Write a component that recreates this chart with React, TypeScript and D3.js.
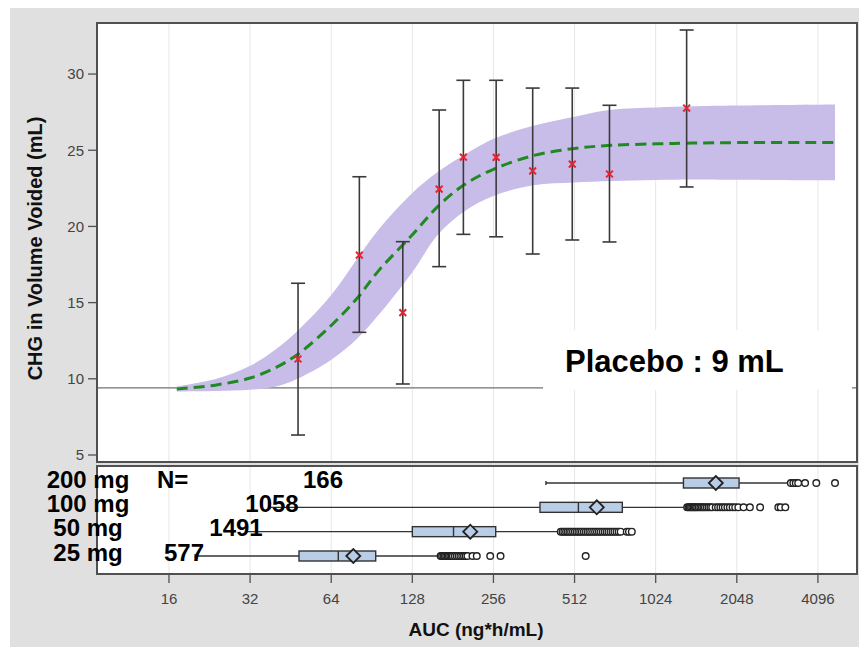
import React from 'react';
import * as d3 from 'd3';

// ---- axis ticks ----
const xTicks = [16, 32, 64, 128, 256, 512, 1024, 2048, 4096];
const yTicks = [5, 10, 15, 20, 25, 30];

// ---- observed binned data (AUC bin, mean change, CI) ----
const obsAUC = [48.2, 81.4, 118, 161, 198, 262, 358, 502, 690, 1334];
const obsMean = [11.3, 18.12, 14.34, 22.45, 24.55, 24.53, 23.64, 24.09, 23.44, 27.77];
const obsLow = [6.31, 13.05, 9.66, 17.36, 19.48, 19.32, 18.19, 19.11, 18.98, 22.59];
const obsHigh = [16.27, 23.26, 19.0, 27.64, 29.59, 29.59, 29.08, 29.08, 27.95, 32.89];

// ---- model fit (Emax) with prediction band ----
const fitAUC = [17.1, 24, 32, 40, 48, 64, 80, 96, 128, 160, 200, 256, 360, 512, 700, 1024, 1400, 2048, 4740];
const fitMean = [9.33, 9.6, 10.05, 10.75, 11.6, 13.5, 15.3, 17.1, 19.45, 21.35, 22.75, 23.75, 24.65, 25.12, 25.32, 25.42, 25.47, 25.5, 25.5];
const fitUpper = [9.5, 10.0, 10.85, 11.95, 13.15, 15.5, 17.9, 19.8, 22.2, 23.6, 24.7, 25.75, 26.6, 27.2, 27.65, 27.8, 27.88, 27.93, 28.0];
const fitLower = [9.17, 9.2, 9.28, 9.5, 10.0, 11.25, 12.65, 14.2, 17.0, 19.5, 21.0, 22.0, 22.7, 22.88, 22.98, 23.05, 23.08, 23.06, 23.03];

const placeboValue = 9.4;
const placeboLabel = 'Placebo : 9 mL';

// ---- exposure box plots by dose ----
const doses = ['200 mg', '100 mg', '50 mg', '25 mg'];
const nCounts = [166, 1058, 1491, 577];
const whiskLow = [401, 38, 31, 20];
const q1 = [1298, 381, 128, 48.6];
const medians = [1700, 529, 182, 68];
const q3 = [2088, 770, 261, 93.6];
const whiskHigh = [3180, 1336, 452, 161];
const means = [1712, 619, 210, 77.3];
const outliers200 = [3250, 3320, 3390, 3460, 3670, 4040, 4740];
const outliers100 = [1340, 1355, 1370, 1385, 1400, 1415, 1430, 1445, 1460, 1480, 1500, 1520, 1540, 1560, 1585, 1610, 1635, 1660, 1710, 1745, 1780, 1815, 1850, 1890, 1930, 1975, 2020, 2075, 2170, 2290, 2500, 2920, 2980, 3100];
const outliers50 = [455, 462, 469, 476, 483, 490, 497, 505, 513, 521, 529, 537, 545, 554, 563, 572, 581, 590, 600, 610, 620, 630, 640, 651, 662, 673, 684, 696, 708, 720, 733, 746, 759, 800, 815, 835];
const outliers25 = [163, 165, 167, 169, 171, 173, 175, 177, 179, 181, 184, 187, 190, 193, 196, 199, 202, 205, 214, 222, 249, 272, 563];
const outliersByDose = [outliers200, outliers100, outliers50, outliers25];

// layout constants (not data)
const countLabelX = [323, 272, 236, 184];
const FONT = '"Liberation Sans", Arial, Helvetica, sans-serif';

export default function App() {
  const W = 859, H = 647;
  const left = 97, right = 857, top = 23, upperBottom = 462, lowerTop = 466, lowerBottom = 574;

  const x = d3.scaleLog().base(2).domain([8.65, 5720]).range([left, right]);
  const y = d3.scaleLinear().domain([4.54, 33.35]).range([upperBottom, top]);
  const row = d3.scalePoint<string>().domain(doses).range([483, 556]);

  const fitData = fitAUC.map((a, i) => ({ a, m: fitMean[i], u: fitUpper[i], l: fitLower[i] }));
  const area = d3.area<any>().x(d => x(d.a)).y0(d => y(d.l)).y1(d => y(d.u)).curve(d3.curveCatmullRom.alpha(0.5));
  const line = d3.line<any>().x(d => x(d.a)).y(d => y(d.m)).curve(d3.curveCatmullRom.alpha(0.5));

  const boxH = 5;
  const dia = 7;
  const cap = 7;
  const xs = 3.4;

  return (
    <svg width={W} height={H} style={{ position: 'absolute', left: 0, top: 0, fontFamily: FONT }}>
      <rect x={0} y={0} width={W} height={H} fill="#ffffff" />
      <rect x={10} y={8} width={W - 10} height={H - 8} fill="#e0e0e0" />

      {/* upper panel */}
      <rect x={left} y={top} width={right - left} height={upperBottom - top} fill="#ffffff" />
      {xTicks.map(t => (
        <line key={'gu' + t} x1={x(t)} x2={x(t)} y1={top} y2={upperBottom} stroke="#e6e6e6" strokeWidth={1} />
      ))}
      <line x1={left} x2={right} y1={y(placeboValue)} y2={y(placeboValue)} stroke="#707070" strokeWidth={1.3} />
      <path d={area(fitData) || ''} fill="#c8bde9" />
      <path d={line(fitData) || ''} fill="none" stroke="#1f8a1f" strokeWidth={3} strokeDasharray="11 6" />

      {obsAUC.map((a, i) => {
        const cx = x(a);
        const cy = y(obsMean[i]);
        return (
          <g key={'ob' + i}>
            <line x1={cx} x2={cx} y1={y(obsLow[i])} y2={y(obsHigh[i])} stroke="#3a3a3a" strokeWidth={1.6} />
            <line x1={cx - cap} x2={cx + cap} y1={y(obsLow[i])} y2={y(obsLow[i])} stroke="#3a3a3a" strokeWidth={1.6} />
            <line x1={cx - cap} x2={cx + cap} y1={y(obsHigh[i])} y2={y(obsHigh[i])} stroke="#3a3a3a" strokeWidth={1.6} />
            <path d={`M${cx - xs},${cy - xs}L${cx + xs},${cy + xs}M${cx - xs},${cy + xs}L${cx + xs},${cy - xs}`} stroke="#e8232d" strokeWidth={2} />
          </g>
        );
      })}

      {/* placebo label box */}
      <rect x={543} y={330} width={309} height={60} fill="#ffffff" />
      <text x={565} y={372} fontSize={31} fontWeight="bold" fill="#000">{placeboLabel}</text>

      <rect x={left} y={top} width={right - left} height={upperBottom - top} fill="none" stroke="#505050" strokeWidth={2} />

      {/* y axis */}
      {yTicks.map(t => (
        <g key={'yt' + t}>
          <line x1={left - 9} x2={left} y1={y(t)} y2={y(t)} stroke="#505050" strokeWidth={1.3} />
          <text x={left - 13} y={y(t)} dy="0.36em" textAnchor="end" fontSize={15} fill="#444">{t}</text>
        </g>
      ))}
      <text transform={`translate(42,${(top + upperBottom) / 2 + 6}) rotate(-90)`} textAnchor="middle" fontSize={20} fontWeight="bold" fill="#111">
        CHG in Volume Voided (mL)
      </text>

      {/* lower panel */}
      <rect x={left} y={lowerTop} width={right - left} height={lowerBottom - lowerTop} fill="#ffffff" />
      {xTicks.map(t => (
        <line key={'gl' + t} x1={x(t)} x2={x(t)} y1={lowerTop} y2={lowerBottom} stroke="#e6e6e6" strokeWidth={1} />
      ))}
      {doses.map((d, i) => {
        const cy = row(d) as number;
        const mx = x(means[i]);
        return (
          <g key={'bx' + d}>
            <line x1={x(whiskLow[i])} x2={x(q1[i])} y1={cy} y2={cy} stroke="#333" strokeWidth={1.4} />
            <line x1={x(q3[i])} x2={x(whiskHigh[i])} y1={cy} y2={cy} stroke="#333" strokeWidth={1.4} />
            <line x1={x(whiskLow[i])} x2={x(whiskLow[i])} y1={cy - 2} y2={cy + 2} stroke="#333" strokeWidth={1.4} />
            <line x1={x(whiskHigh[i])} x2={x(whiskHigh[i])} y1={cy - 2} y2={cy + 2} stroke="#333" strokeWidth={1.4} />
            <rect x={x(q1[i])} y={cy - boxH} width={x(q3[i]) - x(q1[i])} height={boxH * 2} fill="#b9cde6" stroke="#333" strokeWidth={1.4} />
            <line x1={x(medians[i])} x2={x(medians[i])} y1={cy - boxH} y2={cy + boxH} stroke="#333" strokeWidth={1.4} />
            <path d={`M${mx - dia},${cy}L${mx},${cy - dia}L${mx + dia},${cy}L${mx},${cy + dia}Z`} fill="#b9cde6" stroke="#222" strokeWidth={1.8} />
            {outliersByDose[i].map((o, j) => (
              <circle key={j} cx={x(o)} cy={cy} r={3.3} fill="#ffffff" stroke="#222" strokeWidth={1.4} />
            ))}
          </g>
        );
      })}
      <rect x={left} y={lowerTop} width={right - left} height={lowerBottom - lowerTop} fill="none" stroke="#505050" strokeWidth={2} />

      {/* dose labels and N */}
      {doses.map((d, i) => {
        const cy = row(d) as number;
        return (
          <g key={'lb' + d}>
            <text x={88} y={cy + 4.5} textAnchor="middle" fontSize={24} fontWeight="bold" fill="#000">{d}</text>
            <text x={countLabelX[i]} y={cy + 4.5} textAnchor="middle" fontSize={24} fontWeight="bold" fill="#000">{nCounts[i]}</text>
          </g>
        );
      })}
      <text x={157} y={(row(doses[0]) as number) + 4.5} fontSize={24} fontWeight="bold" fill="#000">N=</text>

      {/* x axis */}
      {xTicks.map(t => (
        <g key={'xt' + t}>
          <line x1={x(t)} x2={x(t)} y1={lowerBottom} y2={lowerBottom + 9} stroke="#505050" strokeWidth={1.3} />
          <text x={x(t)} y={604} textAnchor="middle" fontSize={15} fill="#444">{t}</text>
        </g>
      ))}
      <text x={476} y={636} textAnchor="middle" fontSize={19} fontWeight="bold" fill="#111">AUC (ng*h/mL)</text>
    </svg>
  );
}
